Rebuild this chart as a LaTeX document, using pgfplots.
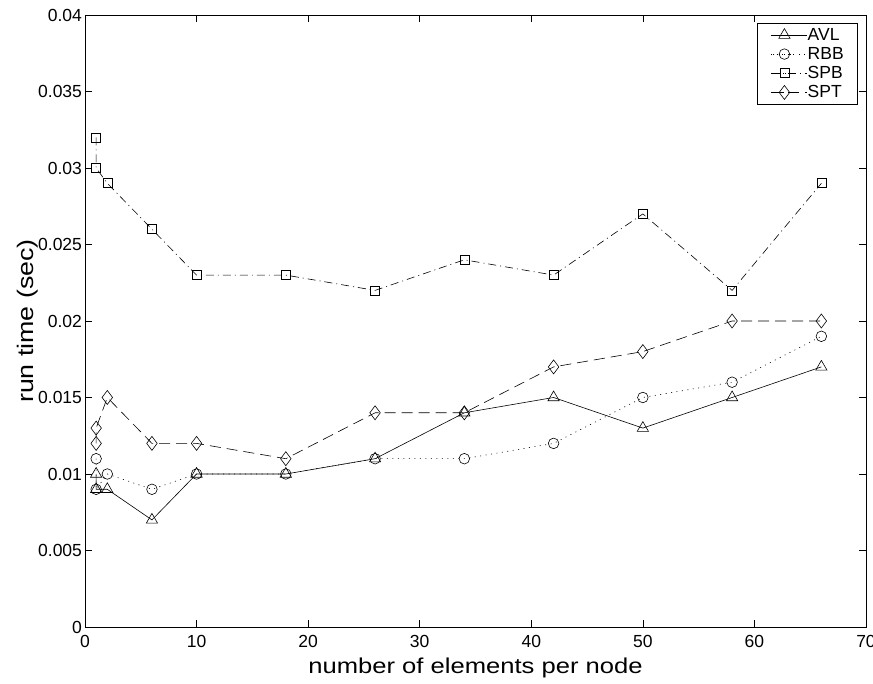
\documentclass[border=0pt]{standalone}
\usepackage{fontspec}
\setmainfont{Liberation Sans}
\newfontfamily\stretched{Liberation Sans}[FakeStretch=1.19]
\usepackage{pgfplots}
\pgfplotsset{compat=1.18}
\begin{document}
\begin{tikzpicture}
\useasboundingbox (-85pt,-56pt) rectangle (788pt,627pt);
\begin{axis}[
  at={(0pt,0pt)}, anchor=south west,
  scale only axis, width=781pt, height=612pt,
  xmin=0, xmax=70, ymin=0, ymax=0.04,
  xtick={0,10,...,70},
  ytick={0,0.005,...,0.04},
  scaled y ticks=false,
  /pgf/number format/assume math mode=true,
  yticklabel style={/pgf/number format/fixed,/pgf/number format/precision=3},
  tick align=inside, major tick length=7pt,
  tick style={black, line width=0.6pt},
  axis line style={line width=0.8pt},
  every tick label/.append style={font=\fontsize{17.5}{20}\selectfont},
  xticklabel style={anchor=base, yshift=-20pt},
  yticklabel style={xshift=0.5pt},
  xlabel={number of elements per node},
  ylabel={run time (sec)},
  xlabel style={font=\stretched\fontsize{21.5}{24}\selectfont, at={(axis description cs:0.5,0)}, anchor=base, yshift=-46pt},
  ylabel style={font=\stretched\fontsize{22.5}{25}\selectfont, at={([xshift=-51pt]axis description cs:0,0.5)}, anchor=base, rotate=0},
  legend cell align=left,
  legend style={at={(1,1)}, xshift=-8pt, yshift=-8pt, anchor=north east,
    font=\fontsize{17.5}{20}\selectfont, draw=black, line width=0.6pt,
    row sep=1.5pt, inner xsep=14pt, inner ysep=3pt,
    nodes={inner xsep=0pt, inner ysep=2pt}},
  legend image code/.code={\path (0pt,0pt) -- (36pt,0pt);\draw[mark repeat=2,mark phase=2,#1] plot coordinates {(2pt,0pt)(13pt,0pt)(24pt,0pt)};},
  every axis plot/.append style={black, line width=0.6pt},
]
\addplot[solid, mark=triangle, mark size=6.5pt, mark options={solid}] coordinates {
 (1,0.010) (1,0.009) (2,0.009) (6,0.007) (10,0.010) (18,0.010) (26,0.011) (34,0.014) (42,0.015) (50,0.013) (58,0.015) (66,0.017)};
\addlegendentry{AVL}
\addplot[dash pattern=on 1pt off 4.5pt, mark=o, mark size=5.3pt, mark options={solid}] coordinates {
 (1,0.011) (1,0.009) (2,0.010) (6,0.009) (10,0.010) (18,0.010) (26,0.011) (34,0.011) (42,0.012) (50,0.015) (58,0.016) (66,0.019)};
\addlegendentry{RBB}
\addplot[dash pattern=on 8pt off 4pt on 1pt off 4pt, mark=square, mark size=4.5pt, mark options={solid}] coordinates {
 (1,0.032) (1,0.030) (2,0.029) (6,0.026) (10,0.023) (18,0.023) (26,0.022) (34,0.024) (42,0.023) (50,0.027) (58,0.022) (66,0.029)};
\addlegendentry{SPB}
\addplot[dash pattern=on 11pt off 6pt, mark=diamond, mark size=7pt, mark options={solid}] coordinates {
 (1,0.012) (1,0.013) (2,0.015) (6,0.012) (10,0.012) (18,0.011) (26,0.014) (34,0.014) (42,0.017) (50,0.018) (58,0.020) (66,0.020)};
\addlegendentry{SPT}
\end{axis}
\end{tikzpicture}
\end{document}
